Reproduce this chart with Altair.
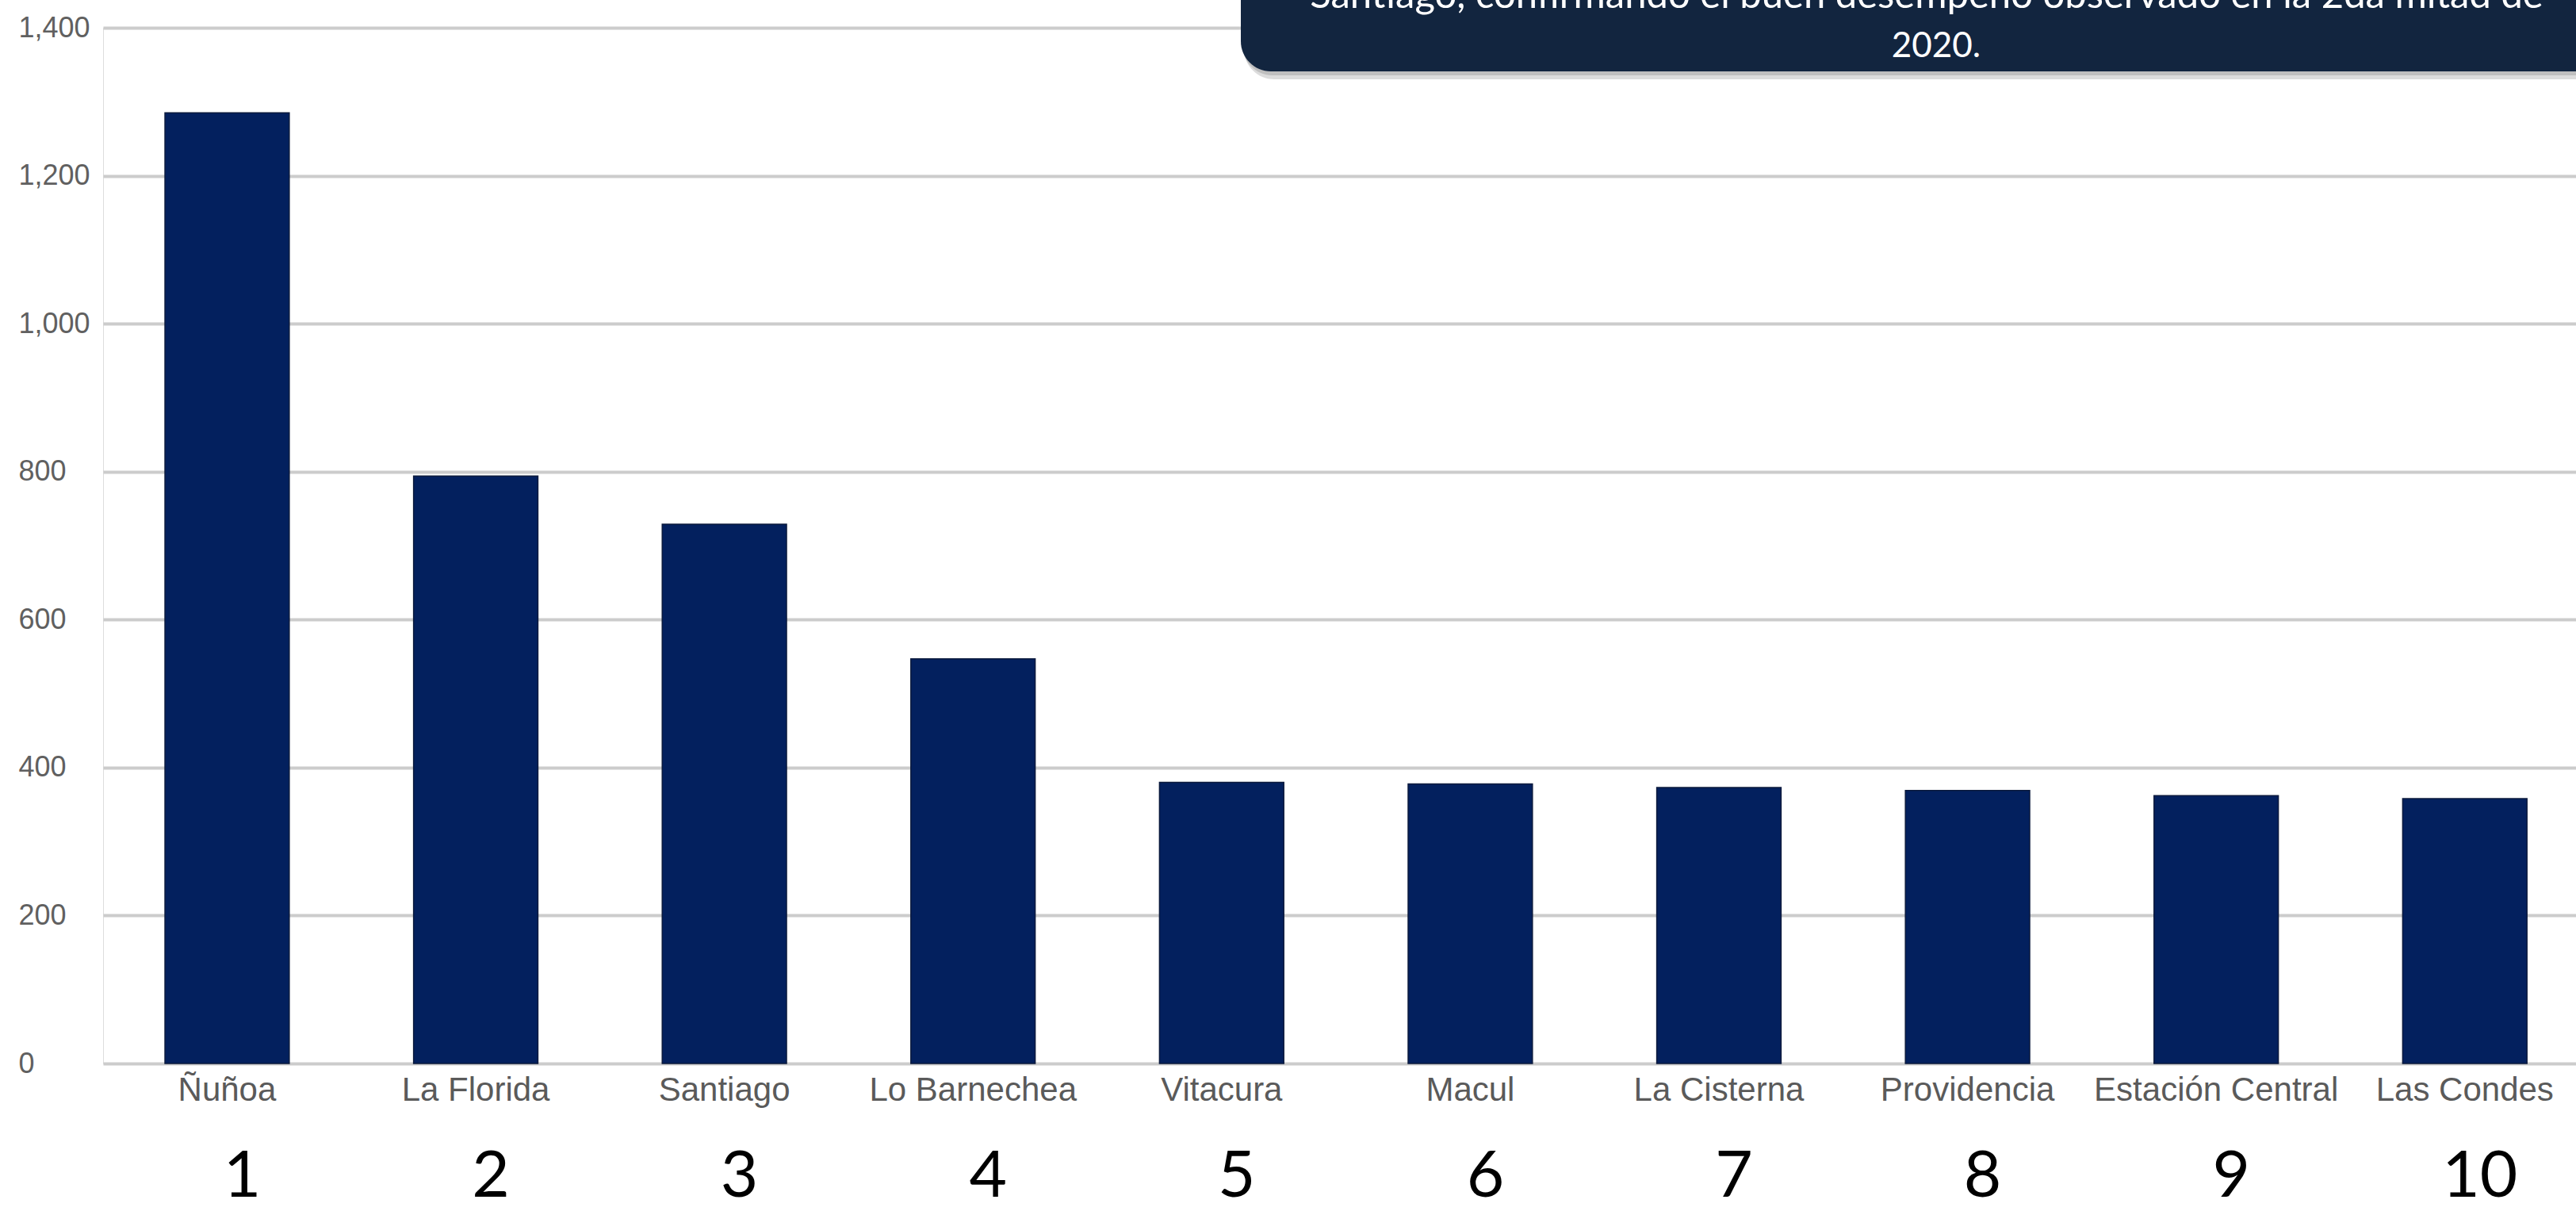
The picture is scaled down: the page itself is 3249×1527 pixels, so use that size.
import altair as alt
import pandas as pd

# Comunas con más ventas, ranking 1..10
comunas = ["Ñuñoa", "La Florida", "Santiago", "Lo Barnechea", "Vitacura",
           "Macul", "La Cisterna", "Providencia", "Estación Central", "Las Condes"]
ventas = [1285, 794, 729, 547, 380, 378, 373, 369, 362, 358]
ranking = ["1", "2", "3", "4", "5", "6", "7", "8", "9", "10"]
y_ticks = [0, 200, 400, 600, 800, 1000, 1200, 1400]

nota_linea_1 = "Santiago, confirmando el buen desempeño observado en la 2da mitad de"
nota_linea_2 = "2020."

df = pd.DataFrame({"comuna": comunas, "ventas": ventas, "rank": ranking})
one = pd.DataFrame({"k": [0]})

BAR = "#03205e"
BOX = "#12253f"
W, H = 3119, 1306

x_enc = alt.X(
    "comuna:N",
    sort=comunas,
    scale=alt.Scale(paddingInner=0.5, paddingOuter=0.223, align=0.558),
    axis=alt.Axis(
        title=None, labelAngle=0, ticks=False, tickSize=0, domain=False,
        labelFont="Liberation Sans", labelFontSize=42, labelColor="#5a5a5a",
        labelPadding=13, labelLimit=0, labelOverlap=False, grid=False,
    ),
)

bars = alt.Chart(df).mark_bar(color=BAR, stroke="#0b1a3d", strokeWidth=1.5).encode(
    x=x_enc,
    y=alt.Y(
        "ventas:Q",
        scale=alt.Scale(domain=[0, 1400], nice=False),
        axis=alt.Axis(
            title=None, values=y_ticks, format=",d", ticks=False, tickSize=0,
            domain=False, labelAlign="left", labelPadding=107,
            labelFont="Liberation Sans", labelFontSize=36, labelColor="#606060",
            gridColor="#cccccc", gridWidth=4,
        ),
    ),
)

# Números de ranking bajo cada comuna
ranks = alt.Chart(df).mark_text(
    font="Lato", fontSize=82, color="#000000", baseline="alphabetic",
    align="center", dx=19
).encode(
    x=alt.X("comuna:N", sort=comunas),
    y=alt.value(1474),
    text="rank:N",
)

# Nota explicativa (recuadro redondeado con sombra)
shadow = alt.Chart(one).mark_rect(cornerRadius=38, color="#8a8a8a", opacity=0.3).encode(
    x=alt.value(1439), x2=alt.value(3300), y=alt.value(-80), y2=alt.value(65)
)
shadow2 = alt.Chart(one).mark_rect(cornerRadius=38, color="#8a8a8a", opacity=0.35).encode(
    x=alt.value(1437), x2=alt.value(3300), y=alt.value(-80), y2=alt.value(60)
)
box = alt.Chart(one).mark_rect(cornerRadius=38, color=BOX).encode(
    x=alt.value(1435), x2=alt.value(3300), y=alt.value(-80), y2=alt.value(55)
)
txt1 = alt.Chart(one).mark_text(
    font="Lato", fontSize=49, color="#ffffff", align="center", baseline="alphabetic"
).encode(x=alt.value(2300), y=alt.value(-25), text=alt.value(nota_linea_1))
txt2 = alt.Chart(one).mark_text(
    font="Lato", fontSize=44, color="#ffffff", align="center", baseline="alphabetic"
).encode(x=alt.value(2312), y=alt.value(37), text=alt.value(nota_linea_2))

chart = alt.layer(bars, ranks, shadow, shadow2, box, txt1, txt2).properties(
    width=W, height=H,
    autosize=alt.AutoSizeParams(type="none"),
    padding={"left": 130, "top": 35, "right": 0, "bottom": 186},
).configure_view(stroke=None).configure(background="#ffffff")

chart.save("out.html", embed_options={"renderer": "svg", "actions": False})
